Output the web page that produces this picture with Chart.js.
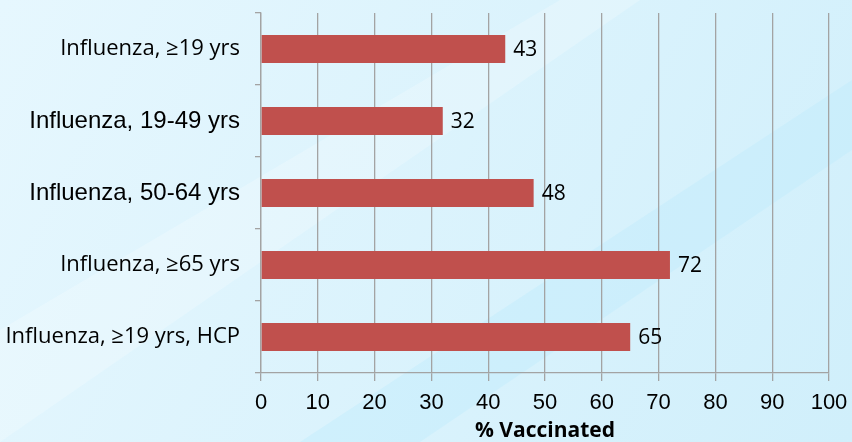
<!DOCTYPE html>
<html lang="en">
<head>
<meta charset="UTF-8">
<title>% Vaccinated</title>
<script src="https://cdn.jsdelivr.net/npm/chart.js"></script>
<style>
  html, body { margin: 0; padding: 0; }
  body { width: 852px; height: 442px; overflow: hidden; }
  #wrap { position: relative; width: 852px; height: 442px; }
</style>
</head>
<body>
<div id="wrap"><canvas id="vacChart" width="852" height="442"></canvas></div>
<script>
// data
const categorias = [
  'Influenza, \u226519 yrs',
  'Influenza, 19-49 yrs',
  'Influenza, 50-64 yrs',
  'Influenza, \u226565 yrs',
  'Influenza, \u226519 yrs, HCP'
];
const vacinados = [43, 32, 48, 72, 65];
const xTicks = [0, 10, 20, 30, 40, 50, 60, 70, 80, 90, 100];

// fundo azul claro com faixas diagonais
const fundoPlugin = {
  id: 'fundo',
  beforeDraw(chart) {
    const { ctx, width, height } = chart;
    ctx.save();
    const g = ctx.createLinearGradient(0, 0, width, height);
    g.addColorStop(0, '#e6f7fe');
    g.addColorStop(1, '#d0effb');
    ctx.fillStyle = g;
    ctx.fillRect(0, 0, width, height);
    ctx.fillStyle = 'rgba(255,255,255,0.22)';
    ctx.beginPath();
    ctx.moveTo(0, 330); ctx.lineTo(560, 0); ctx.lineTo(640, 0); ctx.lineTo(0, 442);
    ctx.closePath(); ctx.fill();
    ctx.fillStyle = 'rgba(190,235,252,0.4)';
    ctx.beginPath();
    ctx.moveTo(300, 442); ctx.lineTo(852, 80); ctx.lineTo(852, 150); ctx.lineTo(420, 442);
    ctx.closePath(); ctx.fill();
    ctx.restore();
  }
};

// rótulos com os valores
const valoresPlugin = {
  id: 'valores',
  afterDatasetsDraw(chart) {
    const { ctx } = chart;
    const meta = chart.getDatasetMeta(0);
    ctx.save();
    ctx.font = '21px "Open Sans", sans-serif';
    ctx.fillStyle = '#000';
    ctx.textBaseline = 'middle';
    ctx.textAlign = 'left';
    meta.data.forEach((bar, i) => {
      ctx.fillText(String(vacinados[i]), bar.x + 8, bar.y + 1);
    });
    ctx.restore();
  }
};

// rótulos com "≥" usam outra fonte, como no original
function fonteRotulo(context) {
  const txt = categorias[context.index] || '';
  if (txt.includes('\u2265')) {
    return { family: '"Open Sans", sans-serif', size: 22 };
  }
  return { family: '"Liberation Sans", Arial, sans-serif', size: 24 };
}

new Chart(document.getElementById('vacChart'), {
  type: 'bar',
  data: {
    labels: categorias,
    datasets: [{
      data: vacinados,
      backgroundColor: '#c0504d',
      borderWidth: 0,
      barPercentage: 0.39,
      categoryPercentage: 1.0
    }]
  },
  options: {
    indexAxis: 'y',
    responsive: false,
    animation: false,
    devicePixelRatio: 1,
    layout: { padding: { top: 13, right: 23, left: 0, bottom: 0 } },
    plugins: { legend: { display: false }, tooltip: { enabled: false } },
    scales: {
      x: {
        min: 0, max: 100,
        afterBuildTicks(scale) { scale.ticks = xTicks.map(v => ({ value: v })); },
        afterFit(scale) {
          scale.height = 69;
          scale.paddingLeft = 0; scale.paddingRight = 0;
        },
        grid: { color: '#a3a3a3', lineWidth: 1.3, tickLength: 8, drawTicks: true },
        border: { color: '#a3a3a3', width: 1.3 },
        ticks: { color: '#000', font: { family: '"Liberation Sans", Arial, sans-serif', size: 22 }, padding: 9 },
        title: {
          display: true, text: '% Vaccinated', color: '#000',
          font: { family: '"Open Sans", sans-serif', size: 21, weight: 'bold' },
          padding: { top: 0, bottom: -2 }
        }
      },
      y: {
        afterFit(scale) {
          scale.width = 261;
          scale.paddingTop = 0; scale.paddingBottom = 0;
        },
        grid: { drawOnChartArea: false, color: '#a3a3a3', lineWidth: 1.3, tickLength: 6 },
        border: { color: '#a3a3a3', width: 1.3 },
        ticks: { color: '#000', font: fonteRotulo, padding: 15 }
      }
    }
  },
  plugins: [fundoPlugin, valoresPlugin]
});
</script>
</body>
</html>
